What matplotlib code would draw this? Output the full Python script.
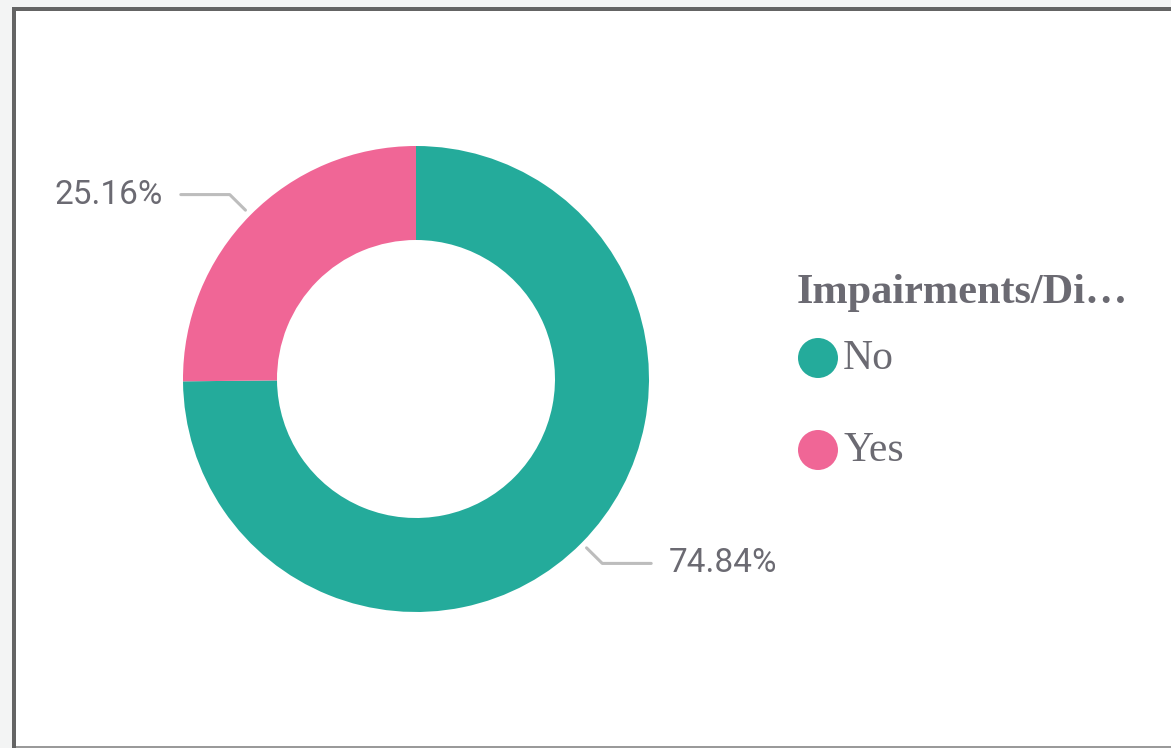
# =================
# IMPORTY
# =================
import numpy as np
import matplotlib
matplotlib.use("Agg")
import matplotlib.pyplot as plt
from matplotlib.patches import Rectangle, Circle

# =================
# DANE
# =================
kategorie = ["No", "Yes"]
wartosci = [74.84, 25.16]
etykiety = ["74.84%", "25.16%"]
kolory = ["#24AB9B", "#F06696"]
tytul_legendy = "Impairments/Di…"

SZARY_TXT = "#6b6a72"
SZARY_LINIA = "#bdbdbd"

W, H = 1171, 748
fig = plt.figure(figsize=(W / 100, H / 100), dpi=100)
fig.patch.set_facecolor("#f3f4f4")


def px(x, y):
    # piksele (od lewego górnego rogu) -> ułamek figury
    return x / W, 1 - y / H


# =================
# RAMKA
# =================
fig.patches.append(Rectangle(px(12, 748), (W - 12) / W, (748 - 7) / H,
                             transform=fig.transFigure, facecolor="white",
                             edgecolor="none", zorder=-2))
fig.patches.append(Rectangle(px(12, 11), (W - 12) / W, 4 / H,
                             transform=fig.transFigure, facecolor="#646464",
                             edgecolor="none", zorder=-1))
fig.patches.append(Rectangle(px(12, 748), 4 / W, (748 - 7) / H,
                             transform=fig.transFigure, facecolor="#646464",
                             edgecolor="none", zorder=-1))
fig.patches.append(Rectangle(px(16, 748), (W - 16) / W, 2 / H,
                             transform=fig.transFigure, facecolor="#9a9a9a",
                             edgecolor="none", zorder=-1))

# =================
# DONUT
# =================
cx, cy, r = 416, 379, 233
lim = 1.25
size = 2 * lim * r
ax = fig.add_axes([(cx - size / 2) / W, (H - cy - size / 2) / H, size / W, size / H])
ax.set_zorder(5)
ax.patch.set_alpha(0)
ax.set_xlim(-lim, lim)
ax.set_ylim(-lim, lim)
ax.set_aspect("equal")
ax.axis("off")

wedges, _ = ax.pie(wartosci, colors=kolory, startangle=90, counterclock=False,
                   radius=1.0, wedgeprops=dict(width=1 - 139 / 233, edgecolor="none"))

for w, lab in zip(wedges, etykiety):
    ang = np.deg2rad((w.theta1 + w.theta2) / 2)
    c, s = np.cos(ang), np.sin(ang)
    znak = 1 if c > 0 else -1
    p0 = (1.03 * c, 1.03 * s)
    p1 = (1.125 * c, 1.125 * s)
    p2 = (p1[0] + znak * 0.21, p1[1])
    ax.plot([p0[0], p1[0], p2[0]], [p0[1], p1[1], p2[1]], color=SZARY_LINIA,
            lw=2.2, solid_capstyle="round", solid_joinstyle="round", clip_on=False)
    ax.text(p2[0] + znak * 0.075, p2[1], lab, family="Roboto", fontsize=24,
            color=SZARY_TXT, ha="left" if znak > 0 else "right", va="center")

# =================
# LEGENDA
# =================
fig.text(*px(797, 303), tytul_legendy, family="Liberation Serif", weight="bold",
         fontsize=30.5, color=SZARY_TXT, ha="left", va="baseline")

for i, (kat, kol) in enumerate(zip(kategorie, kolory)):
    my = 358 + i * 92
    fig.patches.append(Circle((818, H - my), 20, transform=None,
                              facecolor=kol, edgecolor="none", zorder=3))
    fig.text(*px(843, my + 11), kat, family="Liberation Serif", fontsize=30,
             color=SZARY_TXT, ha="left", va="baseline")

fig.savefig("out.png", dpi=100, facecolor=fig.get_facecolor())
